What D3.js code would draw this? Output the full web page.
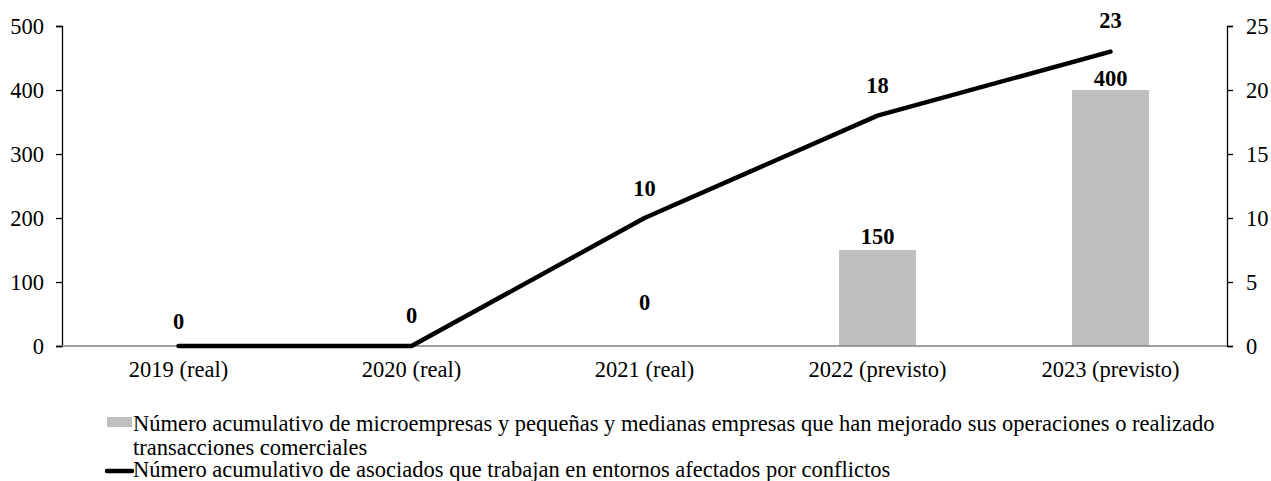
<!DOCTYPE html>
<html>
<head>
<meta charset="utf-8">
<script src="https://cdn.jsdelivr.net/npm/d3@7"></script>
<style>
  body { margin: 0; background: #fff; }
  svg, svg text { font-family: "Liberation Serif", "Times New Roman", serif; }
</style>
</head>
<body>
<div id="chart"></div>
<script>
var categories = ["2019 (real)", "2020 (real)", "2021 (real)", "2022 (previsto)", "2023 (previsto)"];
var msmeValues = [0, 0, 0, 150, 400];
var associateValues = [0, 0, 10, 18, 23];
var leftTicks = [0, 100, 200, 300, 400, 500];
var rightTicks = [0, 5, 10, 15, 20, 25];
var legendLabels = [
  "Número acumulativo de microempresas y pequeñas y medianas empresas que han mejorado sus operaciones o realizado transacciones comerciales",
  "Número acumulativo de asociados que trabajan en entornos afectados por conflictos"
];

// labels were nudged by hand in the original; null = label hidden
var barLabelDy = [null, null, -36, -6, -4];
var lineLabelDy = [-17, -23, -22, -23, -24];

var width = 1271, height = 481;
var margin = { top: 26, right: 44, bottom: 135, left: 62 };
var plotW = width - margin.left - margin.right,
  plotH = height - margin.top - margin.bottom;
var fontSize = 22.5;

var svg = d3
  .select("#chart")
  .append("svg")
  .attr("width", width)
  .attr("height", height);

var g = svg
  .append("g")
  .attr("transform", "translate(" + margin.left + "," + margin.top + ")");

var x = d3.scaleBand().domain(categories).range([0, plotW]).padding(0);
var yLeft = d3.scaleLinear().domain([0, 500]).range([plotH, 0]);
var yRight = d3.scaleLinear().domain([0, 25]).range([plotH, 0]);
var barW = x.bandwidth() * 0.33;
var cx = (d) => x(d) + x.bandwidth() / 2;

// bars
g.selectAll(".bar")
  .data(msmeValues)
  .enter()
  .append("rect")
  .attr("class", "bar")
  .attr("x", (d, i) => cx(categories[i]) - barW / 2)
  .attr("y", (d) => yLeft(d))
  .attr("width", barW)
  .attr("height", (d) => plotH - yLeft(d))
  .attr("fill", "#bfbfbf");

// left axis
var leftAxis = g
  .append("g")
  .call(d3.axisLeft(yLeft).tickValues(leftTicks).tickSize(6).tickPadding(12));
// right axis
var rightAxis = g
  .append("g")
  .attr("transform", "translate(" + plotW + ",0)")
  .call(d3.axisRight(yRight).tickValues(rightTicks).tickSize(6).tickPadding(13));

[leftAxis, rightAxis].forEach(function (a) {
  a.attr("font-family", null).attr("font-size", null);
  a.selectAll("path, line").attr("stroke", "#000").attr("stroke-width", 1.3);
  a.selectAll("text")
    .style("font-size", fontSize + "px")
    .attr("fill", "#000");
});

// category axis
g.append("line")
  .attr("x1", 0)
  .attr("x2", plotW)
  .attr("y1", plotH)
  .attr("y2", plotH)
  .attr("stroke", "#808080")
  .attr("stroke-width", 1.3);

g.selectAll(".cat")
  .data(categories)
  .enter()
  .append("text")
  .attr("class", "cat")
  .attr("x", (d) => cx(d))
  .attr("y", plotH + 31)
  .attr("text-anchor", "middle")
  .style("font-size", fontSize + "px")
  .text((d) => d);

// line
var line = d3
  .line()
  .x((d, i) => cx(categories[i]))
  .y((d) => yRight(d));

g.append("path")
  .datum(associateValues)
  .attr("d", line)
  .attr("fill", "none")
  .attr("stroke", "#000")
  .attr("stroke-width", 4.5)
  .attr("stroke-linejoin", "round")
  .attr("stroke-linecap", "round");

// data labels
msmeValues.forEach(function (d, i) {
  if (barLabelDy[i] === null) return;
  g.append("text")
    .attr("class", "bar-label")
    .attr("x", cx(categories[i]))
    .attr("y", yLeft(d) + barLabelDy[i])
    .attr("text-anchor", "middle")
    .style("font-size", fontSize + "px")
    .style("font-weight", "bold")
    .text(d);
});

g.selectAll(".line-label")
  .data(associateValues)
  .enter()
  .append("text")
  .attr("class", "line-label")
  .attr("x", (d, i) => cx(categories[i]))
  .attr("y", (d, i) => yRight(d) + lineLabelDy[i])
  .attr("text-anchor", "middle")
  .style("font-size", fontSize + "px")
  .style("font-weight", "bold")
  .text((d) => d);

// legend
var legend = svg.append("g");
var lineH = 24;

legend
  .append("rect")
  .attr("x", 107)
  .attr("y", 417)
  .attr("width", 25)
  .attr("height", 10)
  .attr("fill", "#bfbfbf");

var t1 = legend
  .append("text")
  .attr("x", 133)
  .attr("y", 431)
  .style("font-size", fontSize + "px");
wrapText(t1, legendLabels[0], 1130, 133);

legend
  .append("line")
  .attr("x1", 107)
  .attr("x2", 132)
  .attr("y1", 471)
  .attr("y2", 471)
  .attr("stroke", "#000")
  .attr("stroke-width", 4.5)
  .attr("stroke-linecap", "round");

legend
  .append("text")
  .attr("x", 133)
  .attr("y", 477)
  .style("font-size", fontSize + "px")
  .text(legendLabels[1]);

function wrapText(textSel, str, maxW, x0) {
  var words = str.split(" ");
  var lineWords = [];
  var tspan = textSel.append("tspan").attr("x", x0).attr("dy", 0);
  words.forEach(function (w) {
    lineWords.push(w);
    tspan.text(lineWords.join(" "));
    if (tspan.node().getComputedTextLength() > maxW && lineWords.length > 1) {
      lineWords.pop();
      tspan.text(lineWords.join(" "));
      lineWords = [w];
      tspan = textSel.append("tspan").attr("x", x0).attr("dy", lineH).text(w);
    }
  });
}
</script>
</body>
</html>
